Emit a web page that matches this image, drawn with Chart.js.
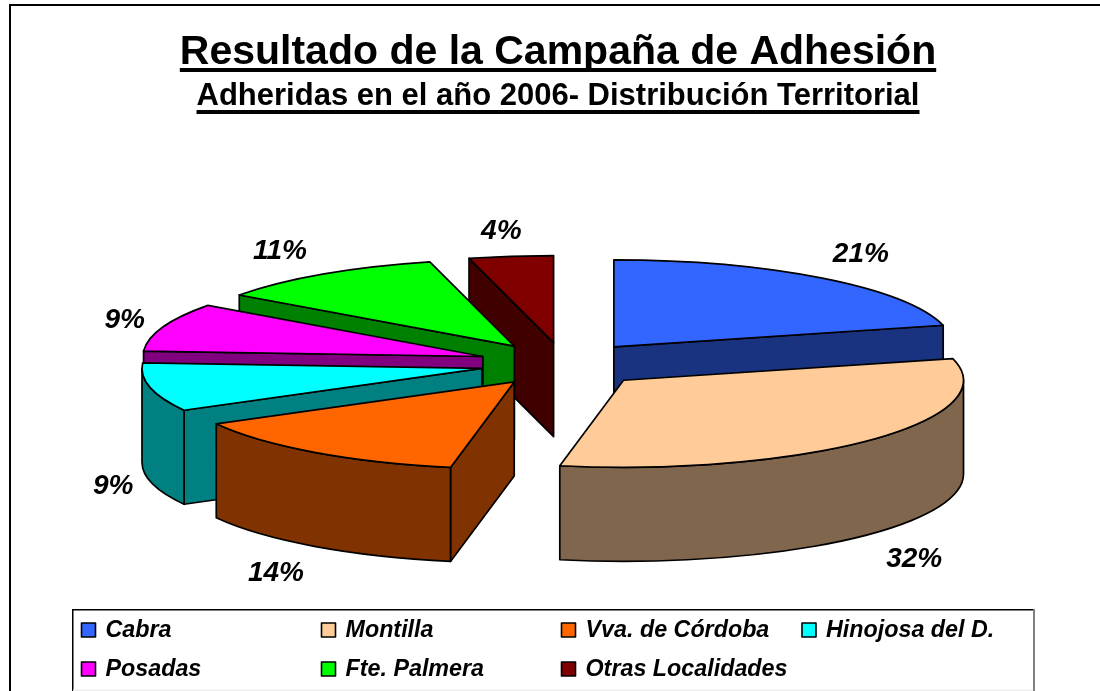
<!DOCTYPE html>
<html><head><meta charset="utf-8">
<style>html,body{margin:0;padding:0;background:#fff}#wrap{position:absolute;left:0;top:0;width:1100px;height:691px}</style>
<script src="https://cdn.jsdelivr.net/npm/chart.js@4/dist/chart.umd.js"></script>
</head><body><div id="wrap"><canvas id="c" width="1100" height="691"></canvas></div>
<script>
const categories = ['Cabra','Montilla','Vva. de Córdoba','Hinojosa del D.','Posadas','Fte. Palmera','Otras Localidades'];
const percentages = [21,32,14,9,9,11,4];
const topColors = ['#3366FF','#FFCC99','#FF6600','#00FFFF','#FF00FF','#00FF00','#800000'];
const wallColors = ['#1A3380','#80664D','#803300','#008080','#800080','#008000','#400000'];
const titleText = 'Resultado de la Campaña de Adhesión';
const subtitleText = 'Adheridas en el año 2006- Distribución Territorial';

const SQUASH = 0.256, DEPTH = 94, RADIUS = 340, EXPLODE = 83, PIE_DX = 5;
const paintOrder = [6,5,4,0,3,1,2];
const sliceNudge = [[0,0],[0,2],[0,1],[0,0],[-2,0],[-2,0],[1,0]];
const labelNudge = [[11,-15],[10,20],[-12,19],[7,2],[2,-3],[-20,-13],[-3,-14]];
const FONT = '"Liberation Sans", Arial, sans-serif';
const TITLE_CX = 558;

function face(ctx,fill,build){ctx.beginPath();build();ctx.closePath();ctx.fillStyle=fill;ctx.fill();ctx.strokeStyle='#000';ctx.lineWidth=1.7;ctx.lineJoin='round';ctx.stroke();}

const pie3d = {
  id:'pie3d',
  beforeDatasetDraw(){return false;},
  afterDatasetsDraw(chart){
    const ctx=chart.ctx, arcs=chart.getDatasetMeta(0).data;
    paintOrder.forEach(i=>{
      const arc=arcs[i];
      const a=arc.startAngle,b=arc.endAngle,mid=(a+b)/2;
      const R=arc.outerRadius, ry=R*SQUASH;
      const cx=arc.x+PIE_DX+Math.cos(mid)*EXPLODE+sliceNudge[i][0], cy=arc.y+Math.sin(mid)*EXPLODE*SQUASH+sliceNudge[i][1];
      const px=t=>cx+Math.cos(t)*R, py=t=>cy+Math.sin(t)*ry;
      const cut=t=>face(ctx,wallColors[i],()=>{ctx.moveTo(cx,cy);ctx.lineTo(px(t),py(t));ctx.lineTo(px(t),py(t)+DEPTH);ctx.lineTo(cx,cy+DEPTH);});
      if(Math.cos(a)<0) cut(a);
      if(Math.cos(b)>0) cut(b);
      // outer wall: the part of the rim that faces the viewer
      for(const k of [0,2*Math.PI,-2*Math.PI]){
        const lo=Math.max(a,k), hi=Math.min(b,k+Math.PI);
        if(hi>lo) face(ctx,wallColors[i],()=>{ctx.ellipse(cx,cy,R,ry,0,lo,hi,false);ctx.ellipse(cx,cy+DEPTH,R,ry,0,hi,lo,true);});
      }
      // top face: the library's own arc, moved out and squashed
      ctx.save();
      ctx.translate(cx-arc.x,cy);ctx.scale(1,SQUASH);ctx.translate(0,-arc.y);
      arc.draw(ctx);
      ctx.restore();
      ctx.beginPath();ctx.moveTo(cx,cy);ctx.ellipse(cx,cy,R,ry,0,a,b,false);ctx.closePath();
      ctx.strokeStyle='#000';ctx.lineWidth=1.7;ctx.lineJoin='round';ctx.stroke();
    });
    // percentage labels
    ctx.save();
    ctx.font='italic bold 28px '+FONT;ctx.fillStyle='#000';ctx.textAlign='center';ctx.textBaseline='middle';
    arcs.forEach((arc,i)=>{
      const mid=(arc.startAngle+arc.endAngle)/2,r=arc.outerRadius+EXPLODE+45;
      const x=arc.x+PIE_DX+Math.cos(mid)*r+labelNudge[i][0];
      const y=arc.y+Math.sin(mid)*r*SQUASH+(Math.sin(mid)>0?DEPTH:0)+labelNudge[i][1];
      ctx.fillText(percentages[i]+'%',x,y);
    });
    ctx.restore();
  },
  afterDraw(chart){
    const ctx=chart.ctx;
    ctx.save();
    // frame
    ctx.fillStyle='#000';
    ctx.fillRect(9,4,1091,2);
    ctx.fillRect(9,4,2,687);
    // title underlines
    ctx.font='bold 41px '+FONT;
    let w=ctx.measureText(titleText).width;
    ctx.fillRect(TITLE_CX-w/2,68,w,4);
    ctx.font='bold 31px '+FONT;
    w=ctx.measureText(subtitleText).width;
    ctx.fillRect(TITLE_CX-w/2,110,w,4);
    // legend
    ctx.fillStyle='#fff';ctx.fillRect(72,609,962,82);
    ctx.fillStyle='#000';ctx.fillRect(72,609,962,1.5);ctx.fillRect(72,609,1.5,82);
    ctx.fillStyle='#808080';ctx.fillRect(1033,609,2,82);
    ctx.fillStyle='#EFEFEF';ctx.fillRect(73,689.5,960,1.5);
    ctx.font='italic bold 23.3px '+FONT;ctx.textAlign='left';ctx.textBaseline='alphabetic';
    const colX=[81.5,321.5,561.5,802], rowY=[637,676];
    categories.forEach((c,i)=>{
      const x=colX[i%4], y=rowY[Math.floor(i/4)];
      ctx.fillStyle=topColors[i];ctx.fillRect(x,y-14,14,14);
      ctx.strokeStyle='#000';ctx.lineWidth=1.6;ctx.strokeRect(x,y-14,14,14);
      ctx.fillStyle='#000';ctx.fillText(c,x+24,y);
    });
    ctx.restore();
  }
};

Chart.defaults.font.family=FONT;
new Chart(document.getElementById('c'),{
  type:'pie',
  data:{labels:categories,datasets:[{data:percentages,backgroundColor:topColors,borderWidth:0,clip:false}]},
  options:{
    responsive:false,animation:false,radius:RADIUS,
    layout:{padding:{top:0,bottom:79,left:16,right:0}},
    events:[],
    plugins:{
      legend:{display:false},tooltip:{enabled:false},
      title:{display:true,text:titleText,color:'#000',font:{size:41,weight:'bold'},padding:{top:28,bottom:0}},
      subtitle:{display:true,text:subtitleText,color:'#000',font:{size:31,weight:'bold'},padding:{top:1,bottom:0}}
    }
  },
  plugins:[pie3d]
});
</script></body></html>
